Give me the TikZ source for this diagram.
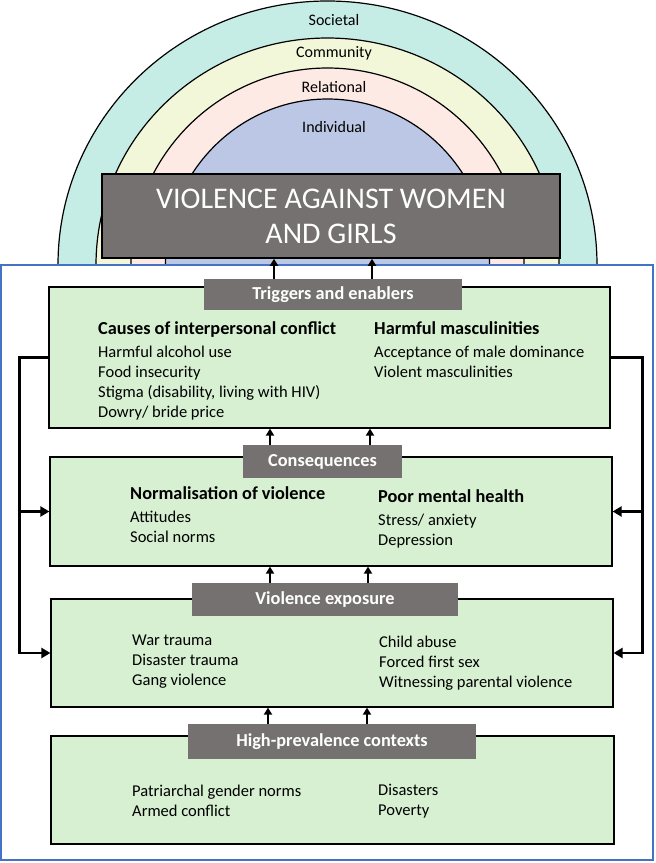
\documentclass[tikz,border=0pt]{standalone}
\usepackage{fontspec}
\setmainfont{Carlito}
\usetikzlibrary{arrows.meta,positioning}

\definecolor{ringsoc}{RGB}{198,236,230}
\definecolor{ringcom}{RGB}{242,247,217}
\definecolor{ringrel}{RGB}{253,234,228}
\definecolor{ringind}{RGB}{187,199,228}
\definecolor{labelgray}{RGB}{118,113,113}
\definecolor{boxgreen}{RGB}{214,240,209}
\definecolor{frameblue}{RGB}{68,114,196}

\begin{document}
\begin{tikzpicture}[
    x=1pt, y=-1pt,
    every node/.style={inner sep=0pt},
    ring/.style={draw=black, line width=1.2pt},
    ringlabel/.style={anchor=base, font=\fontsize{16}{19}\selectfont},
    titlebox/.style={draw=black, line width=1.5pt, fill=labelgray, text=white, align=center, font=\fontsize{30}{35}\selectfont},
    framebox/.style={draw=frameblue, line width=1.3pt, fill=white},
    greenbox/.style={draw=black, line width=1.2pt, fill=boxgreen},
    stagelabel/.style={fill=labelgray, text=white, font=\fontsize{18.3}{21}\selectfont\bfseries},
    itemlist/.style={anchor=base west, align=left, font=\fontsize{16.5}{20}\selectfont},
    uparrow/.style={line width=2pt, -{Triangle[width=8pt,length=7pt]}},
    loopline/.style={line width=2.6pt, -{Triangle[width=10pt,length=9pt]}}
]
\useasboundingbox (0,0) rectangle (656,863);

% Ecological rings
\filldraw[ring, fill=ringsoc] (327.5,265) ellipse [x radius=269.5, y radius=264];
\filldraw[ring, fill=ringcom] (327.5,265) ellipse [x radius=231.5, y radius=227];
\filldraw[ring, fill=ringrel] (327.5,265) ellipse [x radius=196.5, y radius=197];
\filldraw[ring, fill=ringind] (327.5,265) ellipse [x radius=162, y radius=166];

\node[ringlabel] (societal) at (334,25) {Societal};
\node[ringlabel] (community) at (334,57) {Community};
\node[ringlabel] (relational) at (334,92) {Relational};
\node[ringlabel] (individual) at (334,132) {Individual};

\node[titlebox, minimum width=458pt, minimum height=84pt] (vawg) at (331,216) {VIOLENCE AGAINST WOMEN\\AND GIRLS};

% Frame and stages
\node[framebox, minimum width=652pt, minimum height=595pt] (frame) at (327,562.5) {};

\node[greenbox, minimum width=561pt, minimum height=141pt] (g1) at (329.5,357.5) {};
\node[greenbox, minimum width=562pt, minimum height=109pt] (g2) at (331,511.5) {};
\node[greenbox, minimum width=562pt, minimum height=108pt] (g3) at (332,653) {};
\node[greenbox, minimum width=563pt, minimum height=108pt] (g4) at (332.5,790) {};

\node[stagelabel, minimum width=258pt, minimum height=31pt] (trig) at (333,294.5) {Triggers and enablers};
\node[stagelabel, minimum width=159pt, minimum height=33pt] (cons) at (322.5,461.5) {Consequences};
\node[stagelabel, minimum width=266pt, minimum height=33pt] (expo) at (325,599.5) {Violence exposure};
\node[stagelabel, minimum width=288pt, minimum height=35pt] (hp) at (332,741.5) {High-prevalence contexts};

% Stage contents (base = last line)
\node[itemlist] (conflict) at (98,417) {{\fontsize{18.3}{22}\selectfont\bfseries Causes of interpersonal conflict}\\[3pt]
    Harmful alcohol use\\Food insecurity\\Stigma (disability, living with HIV)\\Dowry/ bride price};
\node[itemlist] (masc) at (374,377) {{\fontsize{18.3}{22}\selectfont\bfseries Harmful masculinities}\\[3pt]
    Acceptance of male dominance\\Violent masculinities};
\node[itemlist] (normal) at (130,542) {{\fontsize{18.3}{22}\selectfont\bfseries Normalisation of violence}\\[3pt]
    Attitudes\\Social norms};
\node[itemlist] (mental) at (378,545) {{\fontsize{18.3}{22}\selectfont\bfseries Poor mental health}\\[3pt]
    Stress/ anxiety\\Depression};
\node[itemlist] (trauma) at (132,685) {War trauma\\Disaster trauma\\Gang violence};
\node[itemlist] (abuse) at (379,687) {Child abuse\\Forced first sex\\Witnessing parental violence};
\node[itemlist] (norms) at (132,816) {Patriarchal gender norms\\Armed conflict};
\node[itemlist] (poverty) at (378,815) {Disasters\\Poverty};

% Upward links
\draw[uparrow] (274,0 |- trig.north) -- (274,0 |- vawg.south);
\draw[uparrow] (372,0 |- trig.north) -- (372,0 |- vawg.south);
\draw[uparrow] (270,0 |- cons.north) -- (270,0 |- g1.south);
\draw[uparrow] (370,0 |- cons.north) -- (370,0 |- g1.south);
\draw[uparrow] (270,0 |- expo.north) -- (270,0 |- g2.south);
\draw[uparrow] (368,0 |- expo.north) -- (368,0 |- g2.south);
\draw[uparrow] (268,0 |- hp.north) -- (268,0 |- g3.south);
\draw[uparrow] (367,0 |- hp.north) -- (367,0 |- g3.south);

% Feedback loops
\draw[loopline] (g1.west) -- ++(-29,0) |- (g3.west);
\draw[loopline] (g2.west -| 20,0) -- (g2.west);
\draw[loopline] (g1.east) -- ++(32,0) |- (g3.east);
\draw[loopline] (g2.east -| 642,0) -- (g2.east);

\end{tikzpicture}
\end{document}
